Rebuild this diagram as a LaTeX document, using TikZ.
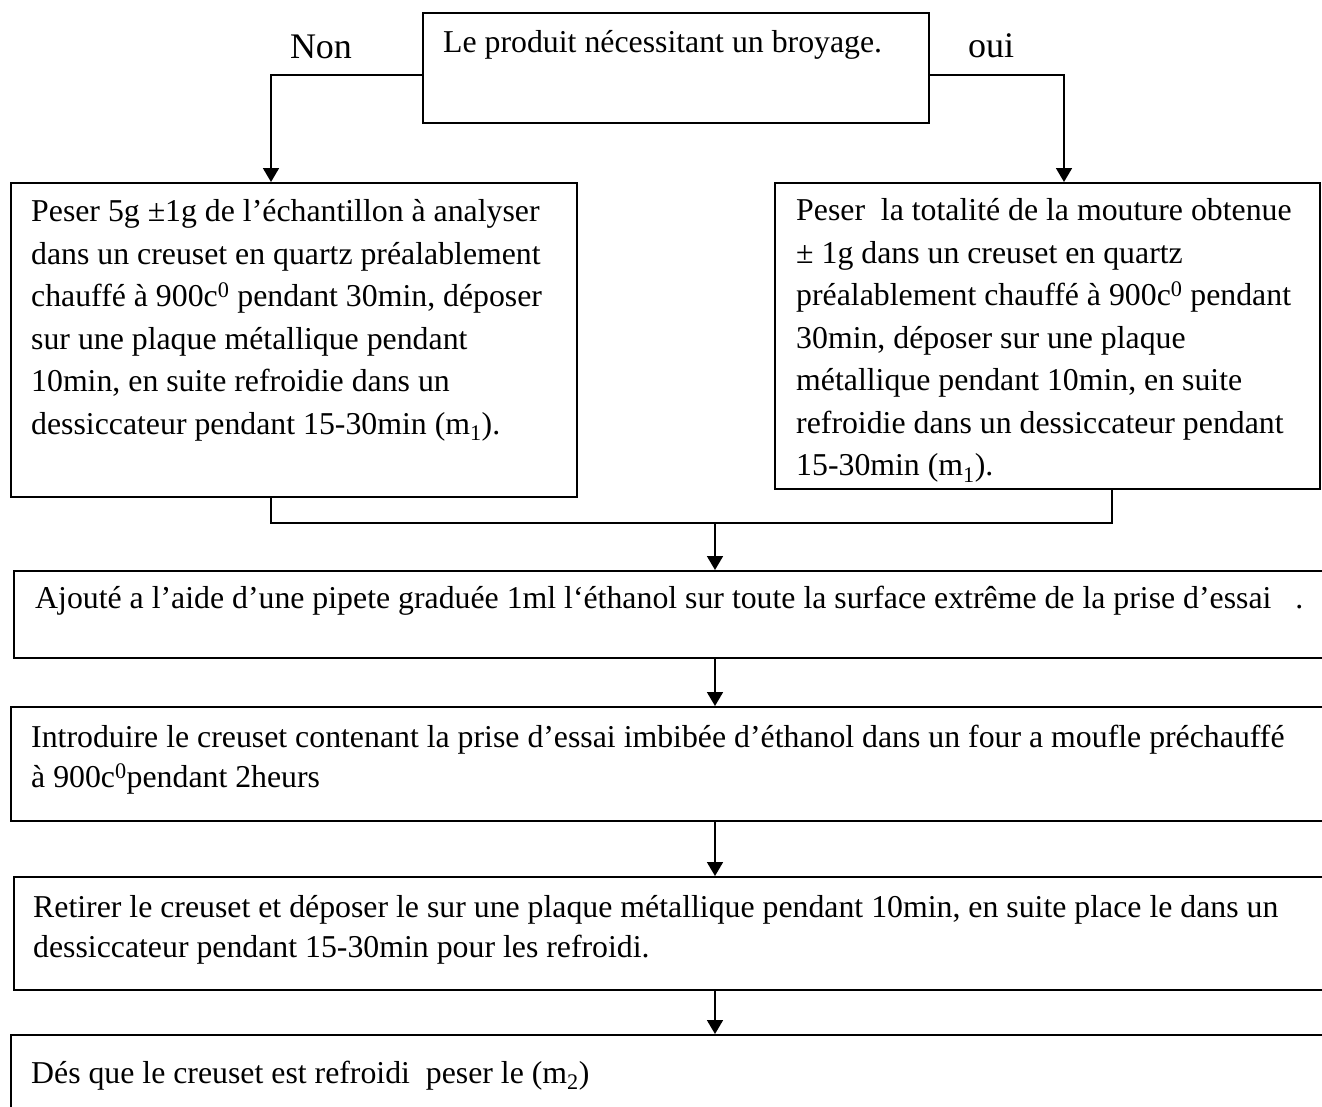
\documentclass[tikz,border=0pt]{standalone}
\usepackage{fontspec}
\setmainfont{Liberation Serif}
\usetikzlibrary{arrows.meta}

\begin{document}
\begin{tikzpicture}
[x=1pt,y=-1pt,
  boxdecorate/.style={shape=rectangle,draw,line width=1.8pt,anchor=north west,inner sep=0pt},%
  textdecorate/.style={anchor=north west,inner sep=0pt,align=left,font=\fontsize{31.8}{42.5}\selectfont},%
  widetextdecorate/.style={textdecorate,font=\fontsize{31.8}{40}\selectfont},%
  labeldecorate/.style={anchor=base,inner sep=0pt,font=\fontsize{36}{40}\selectfont},%
  linedecorate/.style={-,line width=1.8pt},%
  arrowdecorate/.style={-{Triangle[length=14pt,width=16pt]},line width=1.8pt}]
\useasboundingbox (0,0) rectangle (1322,1106);
%% boxes
\foreach \boxname/\x/\y/\w/\h in {top/422/12/506/110, non/10/182/566/314, oui/774/182/545/306,
    add/13/570/1330/87, intro/10/706/1333/114, retire/13/876/1330/113, peser/10/1034/1333/100} {
  \node (\boxname) at (\x,\y) [boxdecorate,minimum width=\w pt,minimum height=\h pt] {};
}
%% texts
\node (top-text) at (443,22.25) [textdecorate] {\strut Le produit nécessitant un broyage.};
\node (non-text) at (31,192) [textdecorate] {\strut Peser 5g ±1g de l’échantillon à analyser\\
  dans un creuset en quartz préalablement\\
  chauffé à 900c\textsuperscript{0} pendant 30min, déposer\\
  sur une plaque métallique pendant\\
  10min, en suite refroidie dans un\\
  dessiccateur pendant 15-30min (m\textsubscript{1}).};
\node (oui-text) at (796,191) [textdecorate] {\strut Peser\ \ la totalité de la mouture obtenue\\
  ± 1g dans un creuset en quartz\\
  préalablement chauffé à 900c\textsuperscript{0} pendant\\
  30min, déposer sur une plaque\\
  métallique pendant 10min, en suite\\
  refroidie dans un dessiccateur pendant\\
  15-30min (m\textsubscript{1}).};
\node (add-text) at (35,580) [widetextdecorate] {\strut Ajouté a l’aide d’une pipete graduée 1ml l‘éthanol sur toute la surface extrême de la prise d’essai\ \ \ .};
\node (intro-text) at (31,719) [widetextdecorate] {\strut Introduire le creuset contenant la prise d’essai imbibée d’éthanol dans un four a moufle préchauffé\\
  à 900c\textsuperscript{0}pendant 2heurs};
\node (retire-text) at (33,889) [widetextdecorate] {\strut Retirer le creuset et déposer le sur une plaque métallique pendant 10min, en suite place le dans un\\
  dessiccateur pendant 15-30min pour les refroidi.};
\node (peser-text) at (31,1055) [widetextdecorate] {\strut Dés que le creuset est refroidi\ \ peser le (m\textsubscript{2})};
%% labels
\node (non-label) at (321,58) [labeldecorate] {Non};
\node (oui-label) at (991,57) [labeldecorate] {oui};
%% connectors
\coordinate (nonx) at (271,523);
\coordinate (ouix) at (1064,523);
\coordinate (ouiend) at (1112,523);
\coordinate (merge) at (715,523);
\draw[arrowdecorate] ([yshift=-7pt]top.west) -| (non.north -| nonx);
\draw[arrowdecorate] ([yshift=-7pt]top.east) -| (oui.north -| ouix);
\draw[linedecorate] (non.south -| nonx) -- (nonx) -- (ouiend) -- (oui.south -| ouiend);
\draw[arrowdecorate] (merge) -- (add.north -| merge);
\foreach \upper/\lower in {add/intro, intro/retire, retire/peser} {
  \draw[arrowdecorate] (\upper.south -| merge) -- (\lower.north -| merge);
}
\end{tikzpicture}
\end{document}
